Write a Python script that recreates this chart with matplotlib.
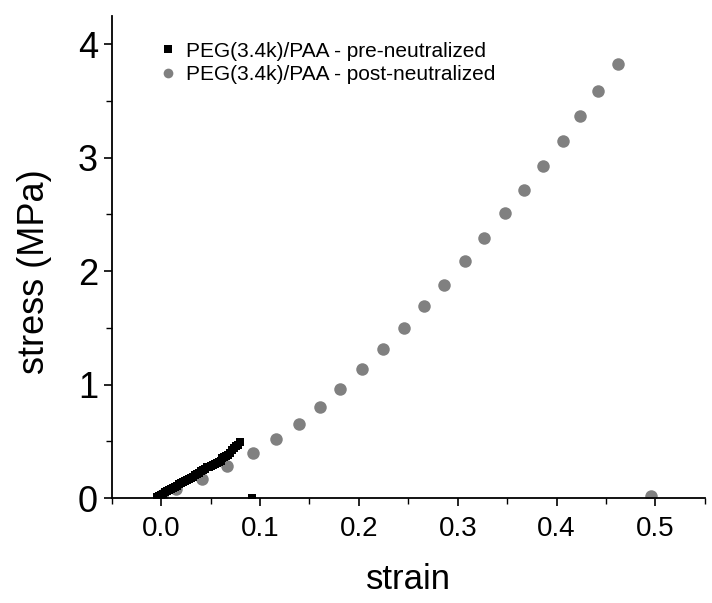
import matplotlib
matplotlib.use("Agg")
import matplotlib.pyplot as plt
from matplotlib.ticker import MultipleLocator

plt.rcParams['font.family'] = ['Liberation Sans', 'DejaVu Sans']

# pre-neutralized (black squares)
pre_strain = [-0.004, -0.002, 0.000, 0.002, 0.004, 0.006, 0.008, 0.010, 0.012, 0.014,
              0.016, 0.018, 0.020, 0.022, 0.024, 0.026, 0.028, 0.030, 0.032, 0.034,
              0.036, 0.038, 0.040, 0.042, 0.044, 0.046, 0.048, 0.050, 0.052, 0.054,
              0.056, 0.058, 0.060, 0.062, 0.064, 0.066, 0.068, 0.070, 0.072, 0.074,
              0.076, 0.078, 0.080, 0.092]
pre_stress = [0.01, 0.02, 0.03, 0.04, 0.05, 0.06, 0.07, 0.08, 0.09, 0.10,
              0.11, 0.12, 0.13, 0.14, 0.15, 0.16, 0.17, 0.18, 0.19, 0.20,
              0.21, 0.22, 0.24, 0.25, 0.26, 0.27, 0.27, 0.28, 0.29, 0.30,
              0.31, 0.32, 0.33, 0.35, 0.36, 0.37, 0.38, 0.40, 0.42, 0.44,
              0.46, 0.47, 0.49, 0.00]

# post-neutralized (gray circles)
post_strain = [0.001, 0.015, 0.041, 0.067, 0.093, 0.116, 0.139, 0.161, 0.181, 0.203,
               0.224, 0.246, 0.266, 0.286, 0.307, 0.327, 0.348, 0.367, 0.386, 0.406,
               0.424, 0.442, 0.462, 0.495]
post_stress = [0.03, 0.08, 0.17, 0.28, 0.40, 0.52, 0.65, 0.80, 0.96, 1.14,
               1.31, 1.50, 1.69, 1.88, 2.09, 2.29, 2.51, 2.71, 2.93, 3.15,
               3.37, 3.59, 3.82, 0.02]

fig = plt.figure(figsize=(7.12, 6.03), dpi=100)
ax = fig.add_axes([0.157, 0.174, 0.833, 0.80])

ax.plot(post_strain, post_stress, 'o', color='#808080', markersize=9,
        markeredgewidth=0, label='PEG(3.4k)/PAA - post-neutralized', zorder=2)
ax.plot(pre_strain, pre_stress, 's', color='black', markersize=6,
        markeredgewidth=0, label='PEG(3.4k)/PAA - pre-neutralized', zorder=3)

ax.set_xlim(-0.05, 0.55)
ax.set_ylim(0, 4.25)
ax.xaxis.set_major_locator(MultipleLocator(0.1))
ax.xaxis.set_minor_locator(MultipleLocator(0.05))
ax.yaxis.set_major_locator(MultipleLocator(1))
ax.yaxis.set_minor_locator(MultipleLocator(0.5))
ax.set_xticks([0.0, 0.1, 0.2, 0.3, 0.4, 0.5])
ax.set_xticklabels(['0.0', '0.1', '0.2', '0.3', '0.4', '0.5'])

for s in ['top', 'right']:
    ax.spines[s].set_visible(False)
for s in ['left', 'bottom']:
    ax.spines[s].set_linewidth(1.3)

ax.tick_params(axis='x', which='major', direction='out', length=6, width=1.2,
               labelsize=20, pad=7)
ax.tick_params(axis='x', which='minor', direction='out', length=4, width=1.0)
ax.tick_params(axis='y', which='major', direction='out', length=6, width=1.2,
               labelsize=26, pad=4)
ax.tick_params(axis='y', which='minor', direction='out', length=4, width=1.0)

ax.set_xlabel('strain', fontsize=25, labelpad=15)
ax.set_ylabel('stress (MPa)', fontsize=26)
ax.yaxis.set_label_coords(-0.10, 0.47)

handles, labels = ax.get_legend_handles_labels()
leg = ax.legend(handles[::-1], labels[::-1], loc='upper left',
                bbox_to_anchor=(0.045, 0.985), frameon=False, fontsize=15,
                handletextpad=0.4, labelspacing=0.22, handlelength=1.0)
leg.legend_handles[0].set_markersize(6)
leg.legend_handles[1].set_markersize(7)

fig.savefig('out.png', dpi=100)
